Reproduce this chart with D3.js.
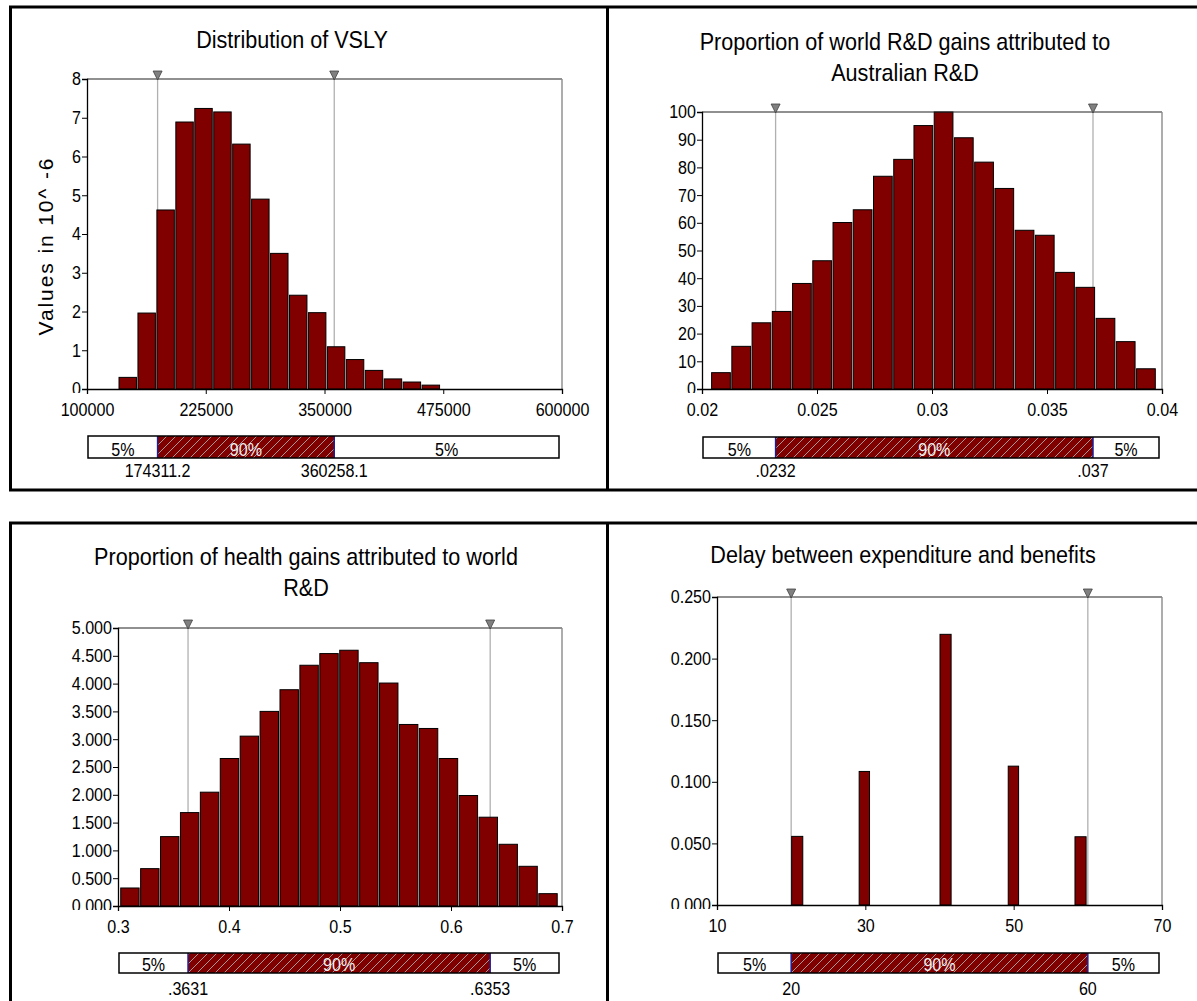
<!DOCTYPE html>
<html>
<head>
<meta charset="utf-8">
<script src="https://cdn.jsdelivr.net/npm/d3@7"></script>
<style>
  body { margin: 0; background: #fff; }
  svg text { font-family: "Liberation Sans", Arial, sans-serif; fill: #000; }
</style>
</head>
<body>
<div id="chart"></div>
<script>
// ---- data ----
// Distribution of VSLY (values in 10^-6)
var vslyBinStart = 133170, vslyBinWidth = 19941;
var vslyValues = [0.30, 1.96, 4.62, 6.89, 7.24, 7.15, 6.32, 4.90, 3.50, 2.42, 1.97, 1.09, 0.76, 0.48, 0.26, 0.18, 0.10];
var vslyXTicks = [100000, 225000, 350000, 475000, 600000];
var vslyYTicks = [0, 1, 2, 3, 4, 5, 6, 7, 8];
var vslyPct = [174311.2, 360258.1];
var vslyPctLabels = ["174311.2", "360258.1"];

// Proportion of world R&D gains attributed to Australian R&D
var ausBinStart = 0.020396, ausBinWidth = 0.00087983;
var ausValues = [5.9, 15.4, 23.9, 28.0, 38.1, 46.3, 60.1, 64.7, 76.8, 82.9, 95.1, 100, 90.7, 81.9, 72.4, 57.3, 55.5, 42.1, 36.7, 25.5, 17.1, 7.3];
var ausXTicks = [0.02, 0.025, 0.03, 0.035, 0.04];
var ausYTicks = [0, 10, 20, 30, 40, 50, 60, 70, 80, 90, 100];
var ausPct = [0.0232, 0.037];
var ausPctLabels = [".0232", ".037"];

// Proportion of health gains attributed to world R&D
var healthBinStart = 0.302, healthBinWidth = 0.017936;
var healthValues = [0.324, 0.672, 1.248, 1.68, 2.047, 2.653, 3.055, 3.50, 3.89, 4.33, 4.54, 4.60, 4.376, 4.01, 3.265, 3.193, 2.653, 1.987, 1.597, 1.11, 0.714, 0.222];
var healthXTicks = [0.3, 0.4, 0.5, 0.6, 0.7];
var healthYTicks = [0, 0.5, 1, 1.5, 2, 2.5, 3, 3.5, 4, 4.5, 5];
var healthPct = [0.3631, 0.6353];
var healthPctLabels = [".3631", ".6353"];

// Delay between expenditure and benefits (discrete)
var delayStart = [20, 29.1, 40, 49.2, 58.2];
var delayEnd = [21.7, 30.7, 41.7, 50.8, 59.9];
var delayValues = [0.0557, 0.1084, 0.2197, 0.1127, 0.0554];
var delayXTicks = [10, 30, 50, 70];
var delayYTicks = [0, 0.05, 0.1, 0.15, 0.2, 0.25];
var delayPct = [20, 60];
var delayPctLabels = ["20", "60"];

var bandLabels = ["5%", "90%", "5%"];

// ---- drawing ----
var W = 1197, H = 1001;
var MAROON = "#800000";
var SQ = 0.87; // horizontal squeeze of the narrow chart font

var svg = d3.select("#chart").append("svg")
  .attr("width", W)
  .attr("height", H);

var defs = svg.append("defs");
var pat = defs.append("pattern")
  .attr("id", "hatch")
  .attr("patternUnits", "userSpaceOnUse")
  .attr("width", 9).attr("height", 9);
pat.append("rect").attr("width", 9).attr("height", 9).attr("fill", MAROON);
pat.append("path")
  .attr("d", "M0,9 L9,0 M-2,2 L2,-2 M7,11 L11,7")
  .attr("stroke", "#a8a8a8").attr("stroke-width", 0.9);

// squeeze text horizontally, keeping its anchor point
function squeeze(sel, k) {
  sel.each(function() {
    var t = d3.select(this);
    var x = +t.attr("x") || 0, y = +t.attr("y") || 0;
    t.attr("x", null).attr("y", null)
      .attr("transform", "translate(" + x + "," + y + ") scale(" + k + ",1)");
  });
}

// outer panel frame
var frame = svg.append("g").attr("stroke", "#000").attr("stroke-width", 3);
frame.append("line").attr("x1", 9).attr("x2", W).attr("y1", 7).attr("y2", 7);
frame.append("line").attr("x1", 9).attr("x2", W).attr("y1", 490).attr("y2", 490);
frame.append("line").attr("x1", 9).attr("x2", W).attr("y1", 523).attr("y2", 523);
frame.append("line").attr("x1", 10.5).attr("x2", 10.5).attr("y1", 6).attr("y2", 491);
frame.append("line").attr("x1", 10.5).attr("x2", 10.5).attr("y1", 522).attr("y2", H);
frame.append("line").attr("x1", 607.5).attr("x2", 607.5).attr("y1", 6).attr("y2", 491);
frame.append("line").attr("x1", 607.5).attr("x2", 607.5).attr("y1", 522).attr("y2", H);

var clipId = 0;

function drawPanel(p) {
  var x = d3.scaleLinear().domain(p.xDomain).range([p.left, p.right]);
  var y = d3.scaleLinear().domain(p.yDomain).range([p.bottom, p.top]);
  var g = svg.append("g");

  // title
  var title = g.append("g");
  p.title.forEach(function(line, i) {
    title.append("text")
      .attr("x", p.titleX)
      .attr("y", p.titleY + i * 31)
      .attr("text-anchor", "middle")
      .style("font-size", "24px")
      .text(line);
  });
  squeeze(title.selectAll("text"), 0.9);

  // percentile marker lines (behind bars)
  g.selectAll(".pline").data(p.pct).enter().append("line")
    .attr("x1", function(d) { return x(d); })
    .attr("x2", function(d) { return x(d); })
    .attr("y1", p.top).attr("y2", p.bottom)
    .attr("stroke", "#b0b0b0").attr("stroke-width", 1.3);

  // bars
  g.selectAll(".bar").data(p.bars).enter().append("rect")
    .attr("x", function(d) { return x(d.x0) + 0.5; })
    .attr("width", function(d) { return Math.max(1, x(d.x1) - x(d.x0) - 1.5); })
    .attr("y", function(d) { return y(d.v); })
    .attr("height", function(d) { return y(0) - y(d.v); })
    .attr("fill", MAROON)
    .attr("stroke", "#000").attr("stroke-width", 1);

  // frame of the plot
  g.append("line").attr("x1", p.left).attr("x2", p.right).attr("y1", p.top).attr("y2", p.top)
    .attr("stroke", "#222").attr("stroke-width", 1.2);
  g.append("line").attr("x1", p.right).attr("x2", p.right).attr("y1", p.top).attr("y2", p.bottom)
    .attr("stroke", "#8a8a8a").attr("stroke-width", 1.4);

  // axes
  clipId++;
  defs.append("clipPath").attr("id", "yclip" + clipId)
    .append("rect").attr("x", -200).attr("y", 0).attr("width", 400).attr("height", p.bottom + 4);
  var ya = g.append("g")
    .attr("transform", "translate(" + p.left + ",0)")
    .attr("clip-path", "url(#yclip" + clipId + ")")
    .call(d3.axisLeft(y).tickValues(p.yTicks).tickSize(5).tickPadding(1).tickFormat(p.yFormat));
  ya.select(".domain").attr("stroke-width", 1.3);
  ya.selectAll("text").style("font-size", "18.5px");
  squeeze(ya.selectAll("text"), SQ);

  var xa = g.append("g")
    .attr("transform", "translate(0," + p.bottom + ")")
    .call(d3.axisBottom(x).tickValues(p.xTicks).tickSize(5).tickPadding(9).tickFormat(p.xFormat));
  xa.select(".domain").attr("stroke-width", 1.3);
  xa.selectAll("text").style("font-size", "18.5px");
  squeeze(xa.selectAll("text"), SQ);
  ya.attr("font-family", null).attr("font-size", null);
  xa.attr("font-family", null).attr("font-size", null);

  // percentile marker triangles
  g.selectAll(".tri").data(p.pct).enter().append("path")
    .attr("d", function(d) {
      var cx = x(d);
      return "M" + (cx - 4.5) + "," + (p.top - 8) + "L" + (cx + 4.5) + "," + (p.top - 8) + "L" + cx + "," + (p.top + 1) + "Z";
    })
    .attr("fill", "#808080").attr("stroke", "#404040").attr("stroke-width", 0.8);

  // y axis title
  if (p.yTitle) {
    g.append("text")
      .attr("transform", "translate(53," + p.yTitleY + ") rotate(-90)")
      .attr("text-anchor", "middle")
      .style("font-size", "21px")
      .style("letter-spacing", "1.9px")
      .text(p.yTitle);
  }

  // percentile band below the plot
  var bx0 = p.left + 1, bx1 = p.right - 3;
  var edges = [bx0, x(p.pct[0]), x(p.pct[1]), bx1];
  var band = g.append("g");
  band.append("rect")
    .attr("x", bx0).attr("y", p.bandY).attr("width", bx1 - bx0).attr("height", p.bandH)
    .attr("fill", "#fff");
  band.append("rect")
    .attr("x", edges[1]).attr("y", p.bandY).attr("width", edges[2] - edges[1]).attr("height", p.bandH)
    .attr("fill", "url(#hatch)");
  band.selectAll(".edge").data([edges[1], edges[2]]).enter().append("line")
    .attr("x1", function(d) { return d; }).attr("x2", function(d) { return d; })
    .attr("y1", p.bandY).attr("y2", p.bandY + p.bandH)
    .attr("stroke", "#1c1c9a").attr("stroke-width", 1.5);
  band.append("rect")
    .attr("x", bx0).attr("y", p.bandY).attr("width", bx1 - bx0).attr("height", p.bandH)
    .attr("fill", "none").attr("stroke", "#000").attr("stroke-width", 1.5);
  var bt = band.selectAll(".bt").data(bandLabels).enter().append("text")
    .attr("x", function(d, i) { return (edges[i] + edges[i + 1]) / 2; })
    .attr("y", p.bandY + p.bandH - 2.5)
    .attr("text-anchor", "middle")
    .style("font-size", "18.5px")
    .style("fill", function(d, i) { return i === 1 ? "#f2f2f2" : "#000"; })
    .text(function(d) { return d; });
  squeeze(bt, SQ);
  var vt = band.selectAll(".vt").data(p.pctLabels).enter().append("text")
    .attr("x", function(d, i) { return x(p.pct[i]); })
    .attr("y", p.bandY + p.bandH + p.labelGap)
    .attr("text-anchor", "middle")
    .style("font-size", "18.5px")
    .text(function(d) { return d; });
  squeeze(vt, SQ);
}

function histBars(start, width, values) {
  return values.map(function(v, i) {
    return { x0: start + i * width, x1: start + (i + 1) * width, v: v };
  });
}

var fmtInt = d3.format("d");
var fmt3 = d3.format(".3f");
var fmtPlain = function(d) { return String(d); };

drawPanel({
  title: ["Distribution of VSLY"], titleX: 292, titleY: 48,
  left: 87, right: 562, top: 79, bottom: 389,
  xDomain: [100000, 600000], yDomain: [0, 8],
  xTicks: vslyXTicks, yTicks: vslyYTicks, xFormat: fmtInt, yFormat: fmtInt,
  bars: histBars(vslyBinStart, vslyBinWidth, vslyValues),
  pct: vslyPct, pctLabels: vslyPctLabels,
  bandY: 436, bandH: 22, labelGap: 19,
  yTitle: "Values in 10^ -6", yTitleY: 246
});

drawPanel({
  title: ["Proportion of world R&D gains attributed to", "Australian R&D"], titleX: 905, titleY: 50,
  left: 702, right: 1162, top: 112, bottom: 389,
  xDomain: [0.02, 0.04], yDomain: [0, 100],
  xTicks: ausXTicks, yTicks: ausYTicks, xFormat: fmtPlain, yFormat: fmtInt,
  bars: histBars(ausBinStart, ausBinWidth, ausValues),
  pct: ausPct, pctLabels: ausPctLabels,
  bandY: 437, bandH: 21, labelGap: 19
});

drawPanel({
  title: ["Proportion of health gains attributed to world", "R&D"], titleX: 306, titleY: 565,
  left: 118, right: 562, top: 628, bottom: 906,
  xDomain: [0.3, 0.7], yDomain: [0, 5],
  xTicks: healthXTicks, yTicks: healthYTicks, xFormat: fmtPlain, yFormat: fmt3,
  bars: histBars(healthBinStart, healthBinWidth, healthValues),
  pct: healthPct, pctLabels: healthPctLabels,
  bandY: 953, bandH: 20, labelGap: 22
});

drawPanel({
  title: ["Delay between expenditure and benefits"], titleX: 903, titleY: 563,
  left: 717, right: 1162, top: 597, bottom: 905,
  xDomain: [10, 70], yDomain: [0, 0.25],
  xTicks: delayXTicks, yTicks: delayYTicks, xFormat: fmtPlain, yFormat: fmt3,
  bars: delayValues.map(function(v, i) { return { x0: delayStart[i], x1: delayEnd[i], v: v }; }),
  pct: delayPct, pctLabels: delayPctLabels,
  bandY: 953, bandH: 20, labelGap: 22
});
</script>
</body>
</html>
